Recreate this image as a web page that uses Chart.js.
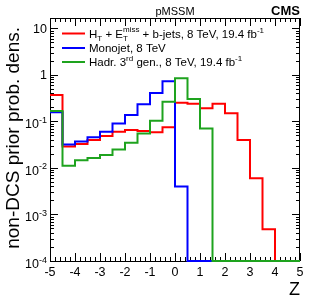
<!DOCTYPE html>
<html><head><meta charset="utf-8">
<script src="https://cdn.jsdelivr.net/npm/chart.js@4/dist/chart.umd.min.js"></script>
<style>html,body{margin:0;padding:0;background:#fff;}#wrap{width:316px;height:303px;position:relative;}</style>
</head><body><div id="wrap"><canvas id="c" width="316" height="303"></canvas></div>
<script>
// ---- data ----
const binEdges = [-5,-4.5,-4,-3.5,-3,-2.5,-2,-1.5,-1,-0.5,0,0.5,1,1.5,2,2.5,3,3.5,4,4.5,5];
const redValues   = [0.37,0.029,0.033,0.040,0.049,0.060,0.066,0.0625,0.0586,0.075,0.254,0.241,0.192,0.241,0.150,0.040,0.0060,0.00048,0,0];
const blueValues  = [0.158,0.032,0.037,0.046,0.060,0.091,0.138,0.236,0.41,0.73,0.0040,0,0,0,0,0,0,0,0,0];
const greenValues = [0.168,0.0112,0.0147,0.0163,0.019,0.025,0.035,0.055,0.104,0.267,0.85,0.305,0.071,0,0,0,0,0,0,0];
const xTickValues = [-5,-4,-3,-2,-1,0,1,2,3,4,5];
const xTickLabels = ['-5','-4','-3','-2','-1','0','1','2','3','4','5'];
const yTickValues = [10,1,0.1,0.01,0.001,0.0001];
const yTickLabels = [['10',''],['1',''],['10','-1'],['10','-2'],['10','-3'],['10','-4']];
const yMin = 0.0001, yMax = 16.8;
const xMin = -5, xMax = 5;
const titleText = 'pMSSM';
const expText = 'CMS';
const yTitle = 'non-DCS prior prob. dens.';
const xTitle = 'Z';

const FONT = '"Liberation Sans", Arial, Helvetica, sans-serif';
const RED = '#ff0000', BLUE = '#0000ff', GREEN = '#1ea31e';

function steps(vals){
  const pts = vals.map((v,i)=>({x: binEdges[i], y: v > 0 ? v : yMin}));
  const last = vals[vals.length-1];
  pts.push({x: binEdges[binEdges.length-1], y: last > 0 ? last : yMin});
  return pts;
}

function drawRich(ctx, x, y, parts, size){
  let cx = x;
  const small = Math.round(size*0.72);
  for (const [t, k] of parts){
    if (k === 'n'){
      ctx.font = size+'px '+FONT; ctx.fillText(t, cx, y); cx += ctx.measureText(t).width;
    } else if (k === 'sub'){
      ctx.font = small+'px '+FONT; ctx.fillText(t, cx, y+size*0.28); cx += ctx.measureText(t).width;
    } else if (k === 'sup'){
      ctx.font = small+'px '+FONT; ctx.fillText(t, cx, y-size*0.42); cx += ctx.measureText(t).width;
    } else if (k === 'subsup'){
      ctx.font = small+'px '+FONT;
      ctx.fillText(t[0], cx, y+size*0.28); ctx.fillText(t[1], cx, y-size*0.45);
      cx += Math.max(ctx.measureText(t[0]).width, ctx.measureText(t[1]).width);
    }
  }
}

const legendItems = [
  {color: RED,   parts: [['H','n'],['T','sub'],[' + E','n'],[['T','miss'],'subsup'],[' + b-jets, 8 TeV, 19.4 fb','n'],['-1','sup']]},
  {color: BLUE,  parts: [['Monojet, 8 TeV','n']]},
  {color: GREEN, parts: [['Hadr. 3','n'],['rd','sup'],[' gen., 8 TeV, 19.4 fb','n'],['-1','sup']]}
];

const rootPlugin = {
  id: 'rootFrame',
  beforeDatasetsDraw(chart){
    const ctx = chart.ctx, a = chart.chartArea, xs = chart.scales.x, ys = chart.scales.y;
    ctx.save();
    ctx.strokeStyle = '#000'; ctx.lineWidth = 1;
    ctx.strokeRect(a.left+0.5, a.top+0.5, a.right-a.left-1, a.bottom-a.top);
    ctx.beginPath();
    for (let i = 0; i <= 50; i++){
      const v = xMin + i*0.2;
      const px = Math.round(xs.getPixelForValue(v))+0.5;
      const len = (i % 5 === 0) ? 8 : 4;
      ctx.moveTo(px, a.bottom); ctx.lineTo(px, a.bottom-len);
      ctx.moveTo(px, a.top); ctx.lineTo(px, a.top+len);
    }
    for (let e = -4; e <= 1; e++){
      for (let m = 1; m <= 9; m++){
        const v = m*Math.pow(10,e);
        if (v < yMin || v > yMax) continue;
        const py = Math.round(ys.getPixelForValue(v))+0.5;
        const len = m === 1 ? 8 : 4;
        ctx.moveTo(a.left, py); ctx.lineTo(a.left+len, py);
        ctx.moveTo(a.right, py); ctx.lineTo(a.right-len, py);
      }
    }
    ctx.stroke();
    ctx.restore();
  },
  afterDraw(chart){
    const ctx = chart.ctx, a = chart.chartArea, xs = chart.scales.x, ys = chart.scales.y;
    ctx.save();
    ctx.fillStyle = '#000';
    ctx.textBaseline = 'alphabetic';
    ctx.font = '12.5px '+FONT; ctx.textAlign = 'center';
    xTickValues.forEach((v,i)=>{ ctx.fillText(xTickLabels[i], xs.getPixelForValue(v), 275.5); });
    yTickValues.forEach((v,i)=>{
      const py = ys.getPixelForValue(v);
      const [base, sup] = yTickLabels[i];
      const right = 47;
      if (sup){
        ctx.font = '9px '+FONT; ctx.textAlign = 'right';
        ctx.fillText(sup, right, py+1.5);
        const sw = ctx.measureText(sup).width;
        ctx.font = '12.5px '+FONT;
        ctx.fillText(base, right - sw, py+7);
      } else {
        ctx.font = '12.5px '+FONT; ctx.textAlign = 'right';
        ctx.fillText(base, right, py+4.5);
      }
    });
    ctx.font = '18px '+FONT; ctx.textAlign = 'right';
    ctx.fillText(xTitle, 300, 295);
    ctx.save();
    ctx.font = '19px '+FONT;
    ctx.translate(18.5, 27); ctx.rotate(-Math.PI/2);
    ctx.textAlign = 'right';
    ctx.fillText(yTitle, 0, 0);
    ctx.restore();
    ctx.font = '11px '+FONT; ctx.textAlign = 'center';
    ctx.fillText(titleText, (a.left+a.right)/2, 15);
    ctx.font = 'bold 13px '+FONT; ctx.textAlign = 'right';
    ctx.fillText(expText, 300, 15);
    ctx.textAlign = 'left';
    const rows = [33.5, 48, 62];
    legendItems.forEach((it, i)=>{
      ctx.strokeStyle = it.color; ctx.lineWidth = 2;
      ctx.beginPath(); ctx.moveTo(62, rows[i]); ctx.lineTo(85, rows[i]); ctx.stroke();
      ctx.fillStyle = '#000';
      drawRich(ctx, 89, rows[i]+4, it.parts, 11.5);
    });
    ctx.restore();
  }
};

const ds = (label, vals, color, order)=>({
  label, data: steps(vals), borderColor: color, borderWidth: 2, stepped: 'before',
  pointRadius: 0, fill: false, tension: 0, clip: 3, order, spanGaps: false
});

new Chart(document.getElementById('c'), {
  type: 'line',
  data: { datasets: [
    ds('HT + ETmiss + b-jets, 8 TeV, 19.4 fb-1', redValues, RED, 2),
    ds('Monojet, 8 TeV', blueValues, BLUE, 1),
    ds('Hadr. 3rd gen., 8 TeV, 19.4 fb-1', greenValues, GREEN, 0)
  ]},
  options: {
    responsive: false, animation: false, devicePixelRatio: 1,
    layout: { padding: { left: 50, right: 16, top: 18, bottom: 42 } },
    plugins: { legend: { display: false }, tooltip: { enabled: false }, title: { display: false } },
    scales: {
      x: { type: 'linear', min: xMin, max: xMax, display: false },
      y: { type: 'logarithmic', min: yMin, max: yMax, display: false }
    }
  },
  plugins: [rootPlugin]
});
</script></body></html>
